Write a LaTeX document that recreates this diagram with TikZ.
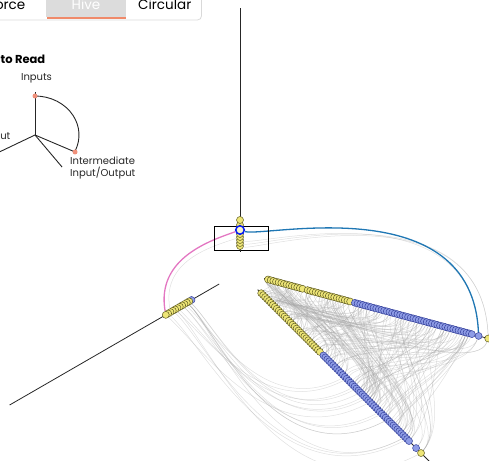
\documentclass[tikz,border=0pt]{standalone}
\usepackage{fontspec}
\setmainfont{Poppins}
\usetikzlibrary{calc}
\pgfdeclarelayer{edges}
\pgfdeclarelayer{hilite}
\pgfsetlayers{edges,hilite,main}
\definecolor{ynodefill}{HTML}{EEE677}
\definecolor{ynodedraw}{HTML}{5E5A22}
\definecolor{bnodefill}{HTML}{8E9CE6}
\definecolor{bnodedraw}{HTML}{34409A}
\definecolor{linkblue}{HTML}{1F77B4}
\definecolor{linkpink}{HTML}{E377C2}
\definecolor{salmon}{HTML}{F0907A}
\definecolor{tabgrey}{HTML}{DCDCDC}
\definecolor{taborange}{HTML}{F08A6A}
\definecolor{ringblue}{HTML}{0A1EF0}
\begin{document}
\begin{tikzpicture}[x=1pt,y=1pt,
  yn/.style={circle,draw=ynodedraw,fill=ynodefill,line width=0.5pt,inner sep=0pt,minimum size=7pt},
  bn/.style={circle,draw=bnodedraw,fill=bnodefill,line width=0.5pt,inner sep=0pt,minimum size=7pt},
  ringnode/.style={circle,draw=ringblue,fill=ynodefill!40,line width=1.6pt,inner sep=0pt,minimum size=8.5pt},
  axisline/.style={draw=black!85,line width=0.8pt},
  greyedge/.style={draw=black!35,line width=0.5pt,opacity=0.35},
  blueedge/.style={draw=linkblue,line width=1.3pt},
  pinkedge/.style={draw=linkpink,line width=1.3pt},
  legline/.style={draw=black!85,line width=0.9pt},
  legdot/.style={circle,fill=salmon,inner sep=0pt,minimum size=5pt},
  tabtext/.style={font=\fontsize{13.5}{16}\selectfont,inner sep=0pt},
  legtext/.style={font=\fontsize{10}{12}\selectfont,inner sep=0pt,text=black!85}
]
\useasboundingbox (0,0) rectangle (489,460);
\clip (0,0) rectangle (489,460);

% ---------- tab bar ----------
\draw[draw=black!15,line width=0.8pt,rounded corners=4pt] (-20,440) rectangle (201.5,475);
\fill[tabgrey] (46,442.5) rectangle (125.5,470);
\fill[taborange] (46.5,440.5) rectangle (125.5,443);
\node[tabtext,anchor=base east] (tforce) at (25.5,450.5) {Force};
\node[tabtext,anchor=base,text=white] (thive) at (86,450.5) {Hive};
\node[tabtext,anchor=base west] (tcirc) at (138,450.5) {Circular};

% ---------- legend ----------
\node[anchor=base east,inner sep=0pt,font=\fontsize{11.5}{13}\selectfont\bfseries] (howto) at (45.5,396.5) {How to Read};
\node[legtext,anchor=base] (linputs) at (36.5,379) {Inputs};
\node[legtext,anchor=base east] (loutput) at (10.5,320.5) {Output};
\node[legtext,anchor=base west] (linter1) at (70,295) {Intermediate};
\node[legtext,anchor=base west] (linter2) at (70,283) {Input/Output};
\coordinate (lc) at (35,325);
\draw[legline] (lc) -- ++(90:43);
\draw[legline] (lc) -- ++(-23:45);
\draw[legline] (lc) -- ++(-49.8:42);
\draw[legline] (lc) -- ++(205.5:50);
\draw[legline] (35,364) arc[start angle=90,end angle=-23,x radius=44,y radius=39];
\node[legdot] (ldot1) at (35,364) {};
\node[legdot] (ldot2) at ($(lc)+(-23:43.5)$) {};

% ---------- hive ----------
\coordinate (O) at (240,188);
\draw[black,line width=0.8pt] (214,234) rectangle (268,210);
\begin{scope}[shift={(240,188)}]
  \draw[axisline] (90:20) -- (90:264);
  \draw[axisline] (210:24) -- (210:266);
  \draw[axisline] (-15:25) -- (-15:262);
  \draw[axisline] (-45:25) -- (-45:270);
  % axis A (-15)
  \foreach \k in {0,...,13} \node[yn] (A\k) at (-15:{29+2.75*\k}) {};
  \foreach \k in {14,...,30} \node[yn] (A\k) at (-15:{70+2.75*(\k-14)}) {};
  \foreach \k in {31,...,75} \node[bn] (A\k) at (-15:{119+2.75*(\k-31)}) {};
  \node[bn] (A76) at (-15:247) {};
  \node[yn] (A77) at (-15:257) {};
  % axis B (-45)
  \foreach \k in {0,...,13} \node[yn] (B\k) at (-45:{30+2.75*\k}) {};
  \foreach \k in {14,...,30} \node[yn] (B\k) at (-45:{69+2.75*(\k-14)}) {};
  \foreach \k in {31,...,75} \node[bn] (B\k) at (-45:{118+2.75*(\k-31)}) {};
  \node[bn] (B76) at (-45:249) {};
  \node[yn] (B77) at (-45:256) {};
  % left axis (210)
  \node[bn] (L0) at (210:56) {};
  \foreach \k in {1,...,11} \node[yn] (L\k) at (210:{56+2.7*\k}) {};
  % vertical axis (90)
  \foreach \k/\r in {0/26,1/29,2/32,3/35,4/38} \node[yn] (V\k) at (90:\r) {};
  \node[yn] (V6) at (90:47) {};
  \node[yn] (V7) at (90:52) {};
  \node[ringnode] (V5) at (90:42) {};
\end{scope}

% ---------- grey links ----------
\begin{pgfonlayer}{edges}
  \clip (0,0) rectangle (489,460);
  \pgfmathsetseed{4217}
  \foreach \e in {1,...,210}{
    \pgfmathrandominteger{\ka}{0}{77}
    \pgfmathrandominteger{\kb}{0}{77}
    \draw[greyedge] (B\kb) .. controls ($(O)!1!10:(B\kb)$) and ($(O)!1!-10:(A\ka)$) .. (A\ka);
  }
  \foreach \e in {1,...,16}{
    \pgfmathrandominteger{\kl}{0}{11}
    \pgfmathrandominteger{\kb}{40}{77}
    \draw[greyedge] (L\kl) .. controls ($(O)!1!35:(L\kl)$) and ($(O)!1!-35:(B\kb)$) .. (B\kb);
  }
  \foreach \v/\a in {0/77,1/77,2/76}{
    \draw[greyedge] (V\v) .. controls ($(O)!1!-35:(V\v)$) and ($(O)!1!35:(A\a)$) .. (A\a);
  }
  \draw[greyedge] (V3) .. controls ($(O)!1!40:(V3)$) and ($(O)!1!-40:(L9)$) .. (L9);
\end{pgfonlayer}

% ---------- highlighted links ----------
\begin{pgfonlayer}{hilite}
  \draw[blueedge] (V5) .. controls ($(O)!1!-35:(V5)$) and ($(O)!1!35:(A76)$) .. (A76);
  \draw[pinkedge] (V5) .. controls ($(O)!1!40:(V5)$) and ($(O)!1!-40:(L11)$) .. (L11);
\end{pgfonlayer}
\end{tikzpicture}
\end{document}
